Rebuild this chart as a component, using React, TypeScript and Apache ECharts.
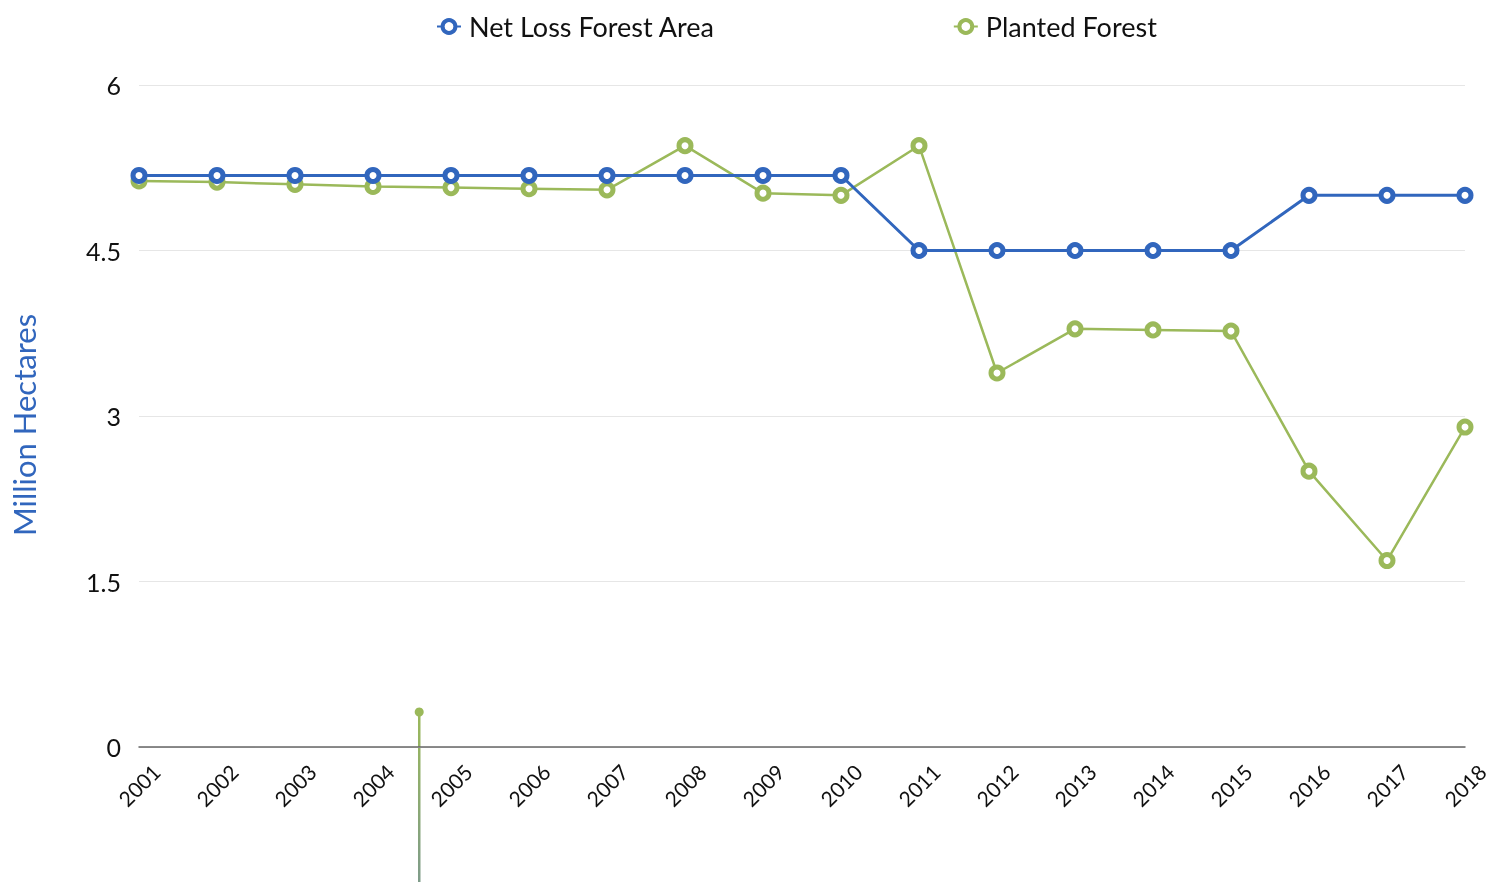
import React, { useEffect, useRef } from "react";
import * as echarts from "echarts";

const years = ["2001","2002","2003","2004","2005","2006","2007","2008","2009","2010","2011","2012","2013","2014","2015","2016","2017","2018"];
const netLoss = [5.18,5.18,5.18,5.18,5.18,5.18,5.18,5.18,5.18,5.18,4.5,4.5,4.5,4.5,4.5,5.0,5.0,5.0];
const planted = [5.13,5.12,5.10,5.08,5.07,5.06,5.05,5.45,5.02,5.0,5.45,3.39,3.79,3.78,3.77,2.5,1.69,2.9];

const BLUE = "#3166bd";
const GREEN = "#9bb95a";
const FONT = "Lato";

export default function App() {
  const ref = useRef<HTMLDivElement>(null);
  useEffect(() => {
    const chart = echarts.init(ref.current!, null, { renderer: "svg" });
    chart.setOption({
      animation: false,
      textStyle: { fontFamily: FONT },
      legend: {
        data: ["Net Loss Forest Area", "Planted Forest"],
        top: 8,
        left: 431,
        itemGap: 238,
        itemWidth: 24,
        itemHeight: 16,
        itemStyle: { borderWidth: 4 },
        textStyle: { fontSize: 27, color: "#111", fontFamily: FONT, padding: [0, 0, 0, 3] },
      },
      grid: { left: 138, right: 34, top: 85, bottom: 135, containLabel: false },
      xAxis: {
        type: "category",
        data: years,
        boundaryGap: false,
        axisLine: { lineStyle: { color: "#666", width: 1.5 } },
        axisTick: { show: false },
        axisLabel: {
          rotate: 45,
          fontSize: 21,
          color: "#111",
          margin: 38,
          align: "center",
          verticalAlign: "middle",
          fontFamily: FONT,
        },
      },
      yAxis: {
        type: "value",
        min: 0,
        max: 6,
        interval: 1.5,
        name: "Million Hectares",
        nameLocation: "middle",
        nameGap: 100,
        nameTextStyle: { color: BLUE, fontSize: 31, fontFamily: FONT, padding: [0, 18, 0, 0] },
        axisLine: { show: false },
        axisTick: { show: false },
        axisLabel: { fontSize: 25, color: "#111", margin: 18, fontFamily: FONT },
        splitLine: { lineStyle: { color: "#e6e6e6", width: 1 } },
      },
      series: [
        {
          name: "Planted Forest",
          type: "line",
          data: planted,
          symbol: "circle",
          symbolSize: 12,
          z: 2,
          lineStyle: { color: GREEN, width: 2.5 },
          itemStyle: { color: "#fff", borderColor: GREEN, borderWidth: 5 },
        },
        {
          name: "Net Loss Forest Area",
          type: "line",
          data: netLoss,
          symbol: "circle",
          symbolSize: 12,
          z: 3,
          lineStyle: { color: BLUE, width: 3 },
          itemStyle: { color: "#fff", borderColor: BLUE, borderWidth: 5 },
        },
      ],
      graphic: [
        {
          type: "rect",
          shape: { x: 418, y: 712, width: 2.5, height: 170 },
          style: {
            fill: new echarts.graphic.LinearGradient(0, 0, 0, 1, [
              { offset: 0, color: "#9bb95a" },
              { offset: 1, color: "#7f9c8a" },
            ]),
          },
        },
        {
          type: "circle",
          shape: { cx: 419.2, cy: 712, r: 4.5 },
          style: { fill: "#9bb95a" },
        },
      ],
    });
    return () => chart.dispose();
  }, []);
  return <div ref={ref} style={{ position: "fixed", left: 0, top: 0, width: 1499, height: 882 }} />;
}
